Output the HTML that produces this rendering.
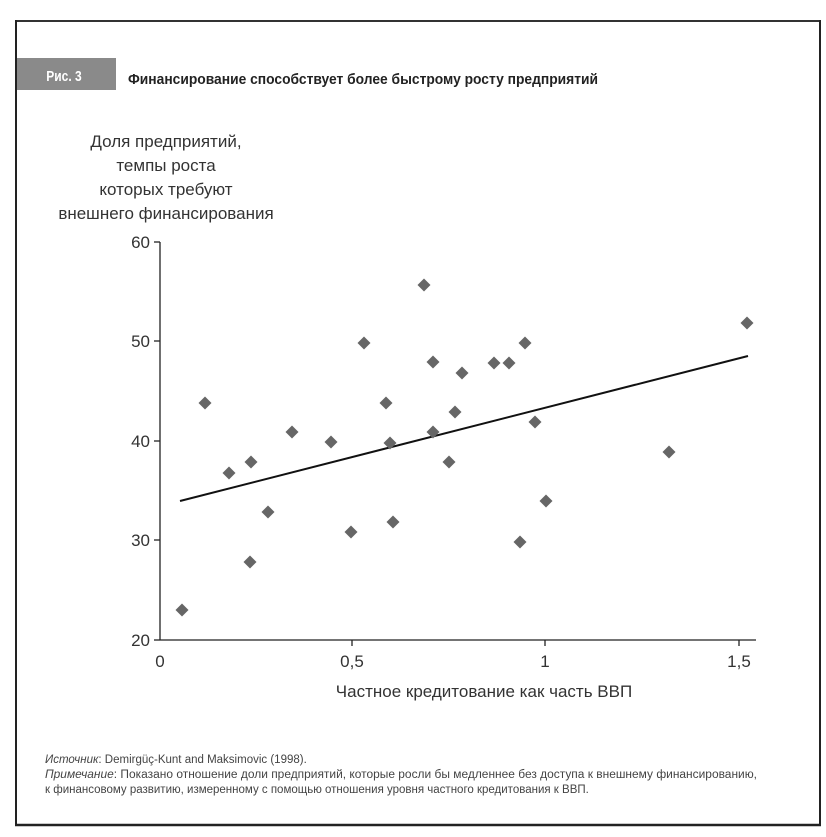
<!DOCTYPE html>
<html><head><meta charset="utf-8"><style>
body{margin:0;background:#fff;}
svg{display:block;font-family:"Liberation Sans","DejaVu Sans",sans-serif;}
</style></head><body>
<svg width="826" height="837" viewBox="0 0 826 837" xmlns="http://www.w3.org/2000/svg">
<rect x="0" y="0" width="826" height="837" fill="#fff"/>
<line x1="16" y1="21" x2="821" y2="21" stroke="#333" stroke-width="2"/>
<line x1="16" y1="20" x2="16" y2="826" stroke="#222" stroke-width="2"/>
<line x1="820" y1="20" x2="820" y2="826" stroke="#222" stroke-width="2"/>
<line x1="15" y1="825" x2="821" y2="825" stroke="#222" stroke-width="2.5"/>
<rect x="17" y="58" width="99" height="32" fill="#8a8a8a"/>
<text x="64" y="81" fill="#fff" font-size="15" font-weight="bold" text-anchor="middle" transform="translate(64 0) scale(0.8 1) translate(-64 0)">Рис. 3</text>
<text x="128" y="84" fill="#222" font-size="15" font-weight="bold" textLength="470" lengthAdjust="spacingAndGlyphs">Финансирование способствует более быстрому росту предприятий</text>
<g fill="#333" font-size="17" text-anchor="middle">
<text x="166" y="147">Доля предприятий,</text>
<text x="166" y="171">темпы роста</text>
<text x="166" y="195">которых требуют</text>
<text x="166" y="219">внешнего финансирования</text>
</g>
<g stroke="#222" stroke-width="1.3">
<line x1="160" y1="242" x2="160" y2="640"/>
<line x1="160" y1="640" x2="756" y2="640"/>
<line x1="154" y1="242" x2="160" y2="242"/>
<line x1="154" y1="341" x2="160" y2="341"/>
<line x1="154" y1="441" x2="160" y2="441"/>
<line x1="154" y1="540" x2="160" y2="540"/>
<line x1="154" y1="640" x2="160" y2="640"/>
<line x1="352" y1="640" x2="352" y2="646"/>
<line x1="545" y1="640" x2="545" y2="646"/>
<line x1="739" y1="640" x2="739" y2="646"/>
</g>
<g fill="#333" font-size="17" text-anchor="end">
<text x="150" y="248">60</text><text x="150" y="347">50</text><text x="150" y="447">40</text><text x="150" y="546">30</text><text x="150" y="646">20</text>
</g>
<g fill="#333" font-size="17" text-anchor="middle">
<text x="160" y="667">0</text><text x="352" y="667">0,5</text><text x="545" y="667">1</text><text x="739" y="667">1,5</text>
<text x="484" y="697">Частное кредитование как часть ВВП</text>
</g>
<line x1="180" y1="501" x2="748" y2="356" stroke="#111" stroke-width="2"/>
<g fill="#666">
<path d="M0,-6.5L6.5,0L0,6.5L-6.5,0Z" transform="translate(182,610)"/>
<path d="M0,-6.5L6.5,0L0,6.5L-6.5,0Z" transform="translate(205,403)"/>
<path d="M0,-6.5L6.5,0L0,6.5L-6.5,0Z" transform="translate(229,473)"/>
<path d="M0,-6.5L6.5,0L0,6.5L-6.5,0Z" transform="translate(251,462)"/>
<path d="M0,-6.5L6.5,0L0,6.5L-6.5,0Z" transform="translate(250,562)"/>
<path d="M0,-6.5L6.5,0L0,6.5L-6.5,0Z" transform="translate(268,512)"/>
<path d="M0,-6.5L6.5,0L0,6.5L-6.5,0Z" transform="translate(292,432)"/>
<path d="M0,-6.5L6.5,0L0,6.5L-6.5,0Z" transform="translate(331,442)"/>
<path d="M0,-6.5L6.5,0L0,6.5L-6.5,0Z" transform="translate(351,532)"/>
<path d="M0,-6.5L6.5,0L0,6.5L-6.5,0Z" transform="translate(364,343)"/>
<path d="M0,-6.5L6.5,0L0,6.5L-6.5,0Z" transform="translate(386,403)"/>
<path d="M0,-6.5L6.5,0L0,6.5L-6.5,0Z" transform="translate(390,443)"/>
<path d="M0,-6.5L6.5,0L0,6.5L-6.5,0Z" transform="translate(393,522)"/>
<path d="M0,-6.5L6.5,0L0,6.5L-6.5,0Z" transform="translate(424,285)"/>
<path d="M0,-6.5L6.5,0L0,6.5L-6.5,0Z" transform="translate(433,362)"/>
<path d="M0,-6.5L6.5,0L0,6.5L-6.5,0Z" transform="translate(433,432)"/>
<path d="M0,-6.5L6.5,0L0,6.5L-6.5,0Z" transform="translate(449,462)"/>
<path d="M0,-6.5L6.5,0L0,6.5L-6.5,0Z" transform="translate(455,412)"/>
<path d="M0,-6.5L6.5,0L0,6.5L-6.5,0Z" transform="translate(462,373)"/>
<path d="M0,-6.5L6.5,0L0,6.5L-6.5,0Z" transform="translate(494,363)"/>
<path d="M0,-6.5L6.5,0L0,6.5L-6.5,0Z" transform="translate(509,363)"/>
<path d="M0,-6.5L6.5,0L0,6.5L-6.5,0Z" transform="translate(525,343)"/>
<path d="M0,-6.5L6.5,0L0,6.5L-6.5,0Z" transform="translate(520,542)"/>
<path d="M0,-6.5L6.5,0L0,6.5L-6.5,0Z" transform="translate(535,422)"/>
<path d="M0,-6.5L6.5,0L0,6.5L-6.5,0Z" transform="translate(546,501)"/>
<path d="M0,-6.5L6.5,0L0,6.5L-6.5,0Z" transform="translate(669,452)"/>
<path d="M0,-6.5L6.5,0L0,6.5L-6.5,0Z" transform="translate(747,323)"/>
</g>
<g fill="#444" font-size="11.5">
<text x="45" y="763"><tspan font-style="italic">Источник</tspan>: Demirgüç-Kunt and Maksimovic (1998).</text>
<text x="45" y="778" textLength="712" lengthAdjust="spacingAndGlyphs"><tspan font-style="italic">Примечание</tspan>: Показано отношение доли предприятий, которые росли бы медленнее без доступа к внешнему финансированию,</text>
<text x="45" y="793">к финансовому развитию, измеренному с помощью отношения уровня частного кредитования к ВВП.</text>
</g>
</svg>
</body></html>
